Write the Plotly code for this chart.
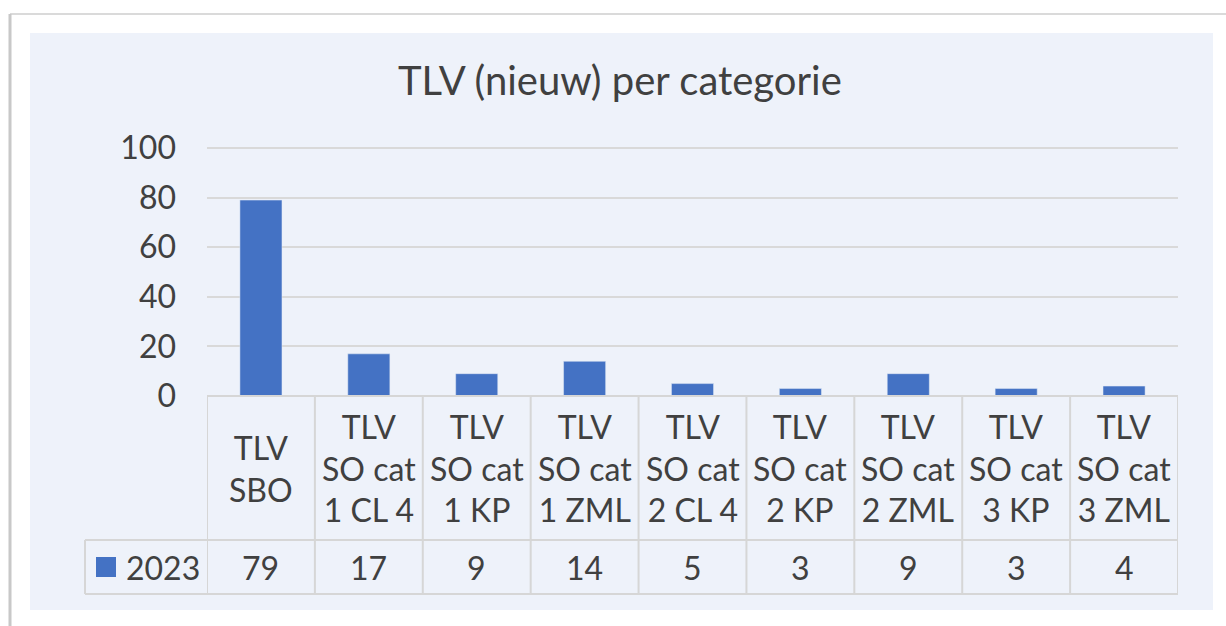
import plotly.graph_objects as go

categories = ["TLV<br>SBO", "TLV<br>SO cat<br>1 CL 4", "TLV<br>SO cat<br>1 KP", "TLV<br>SO cat<br>1 ZML",
              "TLV<br>SO cat<br>2 CL 4", "TLV<br>SO cat<br>2 KP", "TLV<br>SO cat<br>2 ZML",
              "TLV<br>SO cat<br>3 KP", "TLV<br>SO cat<br>3 ZML"]
values_2023 = [79, 17, 9, 14, 5, 3, 9, 3, 4]
series_name = "2023"
y_ticks = [0, 20, 40, 60, 80, 100]
title_text = "TLV (nieuw) per categorie"

W, H = 1226, 626
FONT = "Lato"
TXT = "#404040"
BLUE = "#4472C4"
GRID = "#D9D9D9"
PANEL = "#EEF2FA"
FS = 32

def px(x):
    return x / W

def py(y):
    return 1 - y / H

n = len(categories)
xs = list(range(n))

fig = go.Figure()
fig.add_trace(go.Bar(x=xs, y=values_2023, name=series_name, marker_color=BLUE,
                     width=0.39, showlegend=False))

shapes = []
# outer frame/shadow
shapes.append(dict(type="line", xref="paper", yref="paper", x0=px(10), x1=1, y0=py(14), y1=py(14),
                   line=dict(color="#DADADA", width=2), layer="below"))
shapes.append(dict(type="line", xref="paper", yref="paper", x0=px(10), x1=px(10), y0=py(14), y1=0,
                   line=dict(color="#C8C8C8", width=3), layer="below"))
# panel
shapes.append(dict(type="rect", xref="paper", yref="paper", x0=px(30), x1=px(1213), y0=py(610), y1=py(33),
                   fillcolor=PANEL, line=dict(width=0), layer="below"))

LC = "#D6D6D6"
LW = 2
y_top, y_mid, y_bot = 396, 540, 594
shapes.append(dict(type="line", xref="x", yref="paper", x0=-0.5, x1=n - 0.5, y0=py(y_top), y1=py(y_top),
                   line=dict(color=LC, width=LW)))
shapes.append(dict(type="line", xref="paper", yref="paper", x0=px(85), x1=px(1178), y0=py(y_mid), y1=py(y_mid),
                   line=dict(color=LC, width=LW)))
shapes.append(dict(type="line", xref="paper", yref="paper", x0=px(85), x1=px(1178), y0=py(y_bot), y1=py(y_bot),
                   line=dict(color=LC, width=LW)))
for i in range(n + 1):
    shapes.append(dict(type="line", xref="x", yref="paper", x0=i - 0.5, x1=i - 0.5, y0=py(y_top), y1=py(y_bot),
                       line=dict(color=LC, width=LW)))
shapes.append(dict(type="line", xref="paper", yref="paper", x0=px(85), x1=px(85), y0=py(y_mid), y1=py(y_bot),
                   line=dict(color=LC, width=LW)))
shapes.append(dict(type="rect", xref="paper", yref="paper", x0=px(96), x1=px(116), y0=py(577), y1=py(557),
                   fillcolor=BLUE, line=dict(width=0)))

annotations = []
for i, (c, v) in enumerate(zip(categories, values_2023)):
    annotations.append(dict(x=i, xref="x", y=py((y_top + y_mid) / 2), yref="paper", text=c, showarrow=False,
                            font=dict(family=FONT, size=FS, color=TXT), align="center",
                            xanchor="center", yanchor="middle"))
    annotations.append(dict(x=i, xref="x", y=py((y_mid + y_bot) / 2), yref="paper", text=str(v), showarrow=False,
                            font=dict(family=FONT, size=FS, color=TXT), xanchor="center", yanchor="middle"))
annotations.append(dict(x=px(124), xref="paper", y=py(567), yref="paper", text=series_name, showarrow=False,
                        font=dict(family=FONT, size=FS, color=TXT), xanchor="left", yanchor="middle"))
annotations.append(dict(x=px(620), xref="paper", y=py(80), yref="paper", text=title_text, showarrow=False,
                        font=dict(family=FONT, size=40, color=TXT), xanchor="center", yanchor="middle"))

ppu = (396 - 148) / 100.0
ytop_val = 100.6
fig.update_layout(
    width=W, height=H,
    margin=dict(l=0, r=0, t=0, b=0, pad=0, autoexpand=False),
    paper_bgcolor="white",
    plot_bgcolor="rgba(0,0,0,0)",
    shapes=shapes,
    annotations=annotations,
    xaxis=dict(domain=[px(207), px(1178)], range=[-0.5, n - 0.5], showticklabels=False, automargin=False,
               showgrid=False, zeroline=False, showline=False, fixedrange=True),
    yaxis=dict(domain=[py(396), py(396 - ytop_val * ppu)], range=[0, ytop_val], tickvals=y_ticks,
               showgrid=True, gridcolor=GRID, gridwidth=2, zeroline=False, showline=False, automargin=False,
               tickfont=dict(family=FONT, size=FS, color=TXT), ticks="", ticklabelstandoff=30,
               fixedrange=True),
    showlegend=False,
)

fig.write_html("out.html", config={"displayModeBar": False},
               post_script="document.body.style.margin='0';document.body.style.overflow='hidden';")
